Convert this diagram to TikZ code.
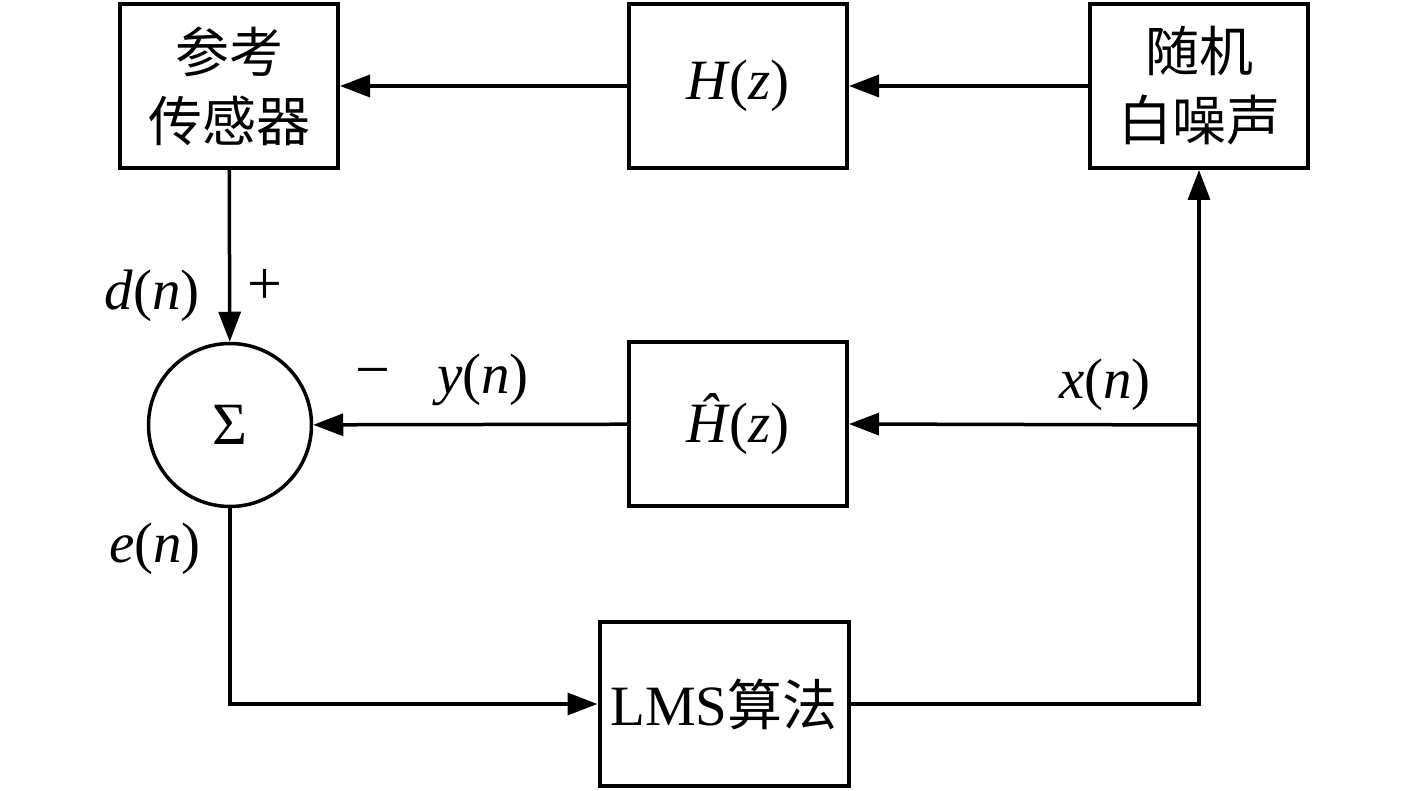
\documentclass[tikz,border=0pt]{standalone}
\usepackage{fontspec}
\setmainfont{Liberation Serif}
\newfontfamily\cjk{Noto Sans CJK SC}
\usetikzlibrary{arrows.meta}
\begin{document}
\begin{tikzpicture}[x=1pt,y=-1pt,
  blk/.style={draw,line width=4pt,minimum width=218pt,minimum height=164pt,inner sep=0pt,align=center},
  cjkt/.style={font=\cjk\fontsize{54}{69}\selectfont},
  lat/.style={font=\fontsize{57}{60}\selectfont},
  lbl/.style={inner sep=0pt,font=\fontsize{57}{60}\selectfont},
  sgn/.style={inner sep=0pt,font=\fontsize{62}{64}\selectfont},
  arr/.style={line width=3.5pt,-{Triangle[length=30pt,width=22pt]}},
  ln/.style={line width=3.5pt}]
\useasboundingbox (0,0) rectangle (1417,791);
\node[blk,cjkt] (ref) at (229,86) {参考\\传感器};
\node[blk,lat] (hz) at (738,86) {\textit{H}(\textit{z})};
\node[blk,cjkt] (wn) at (1199,86) {随机\\白噪声};
\node[circle,draw,line width=3.5pt,minimum size=163pt,inner sep=0pt,font=\fontsize{60}{60}\selectfont] (sum) at (230,425) {Σ};
\node[blk,lat] (hh) at (738,424) {\textit{Ĥ}(\textit{z})};
\node[blk,lat,minimum width=249pt] (lms) at (724,704) {LMS{\cjk\fontsize{55}{60}\selectfont 算法}};
\coordinate (j) at (1199,425);
\coordinate (c1) at (1199,704);
\coordinate (c2) at (230,704);
\draw[arr] (wn) -- (hz);
\draw[arr] (hz) -- (ref);
\draw[arr] (ref) -- (sum);
\draw[arr] (j) -- (hh.east);
\draw[arr] (hh) -- (sum);
\draw[arr] (lms.east) -- (c1) -- (wn.south);
\draw[arr] (sum.south) -- (c2) -- (lms.west);
\node[lbl] (dn) at (152,296) {\textit{d}(\textit{n})};
\node[lbl] (en) at (155,549) {\textit{e}(\textit{n})};
\node[lbl] (yn) at (483,380) {\textit{y}(\textit{n})};
\node[lbl] (xn) at (1105,385) {\textit{x}(\textit{n})};
\node[sgn] (plus) at (265,287) {+};
\node[sgn] (minus) at (373,379) {−};
\end{tikzpicture}
\end{document}
